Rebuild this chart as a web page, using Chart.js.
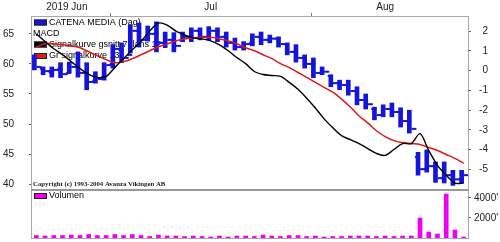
<!DOCTYPE html>
<html>
<head>
<meta charset="utf-8">
<script src="https://cdn.jsdelivr.net/npm/chart.js@4"></script>
<style>
  html, body { margin: 0; padding: 0; background: #fff; }
  #wrap { position: relative; width: 500px; height: 242px; }
  canvas { position: absolute; left: 0; }
  #price { top: 0; }
  #volume { top: 189px; }
</style>
</head>
<body>
<div id="wrap">
  <canvas id="price" width="500" height="190"></canvas>
  <canvas id="volume" width="500" height="53"></canvas>
</div>
<script>
// trading days shown in the chart
const days = [
  '2019-06-17', '2019-06-18', '2019-06-19', '2019-06-20', '2019-06-24', '2019-06-25', '2019-06-26', '2019-06-27', '2019-06-28',
  '2019-07-01', '2019-07-02', '2019-07-03', '2019-07-04', '2019-07-05', '2019-07-08', '2019-07-09', '2019-07-10', '2019-07-11',
  '2019-07-12', '2019-07-15', '2019-07-16', '2019-07-17', '2019-07-18', '2019-07-19', '2019-07-22', '2019-07-23', '2019-07-24',
  '2019-07-25', '2019-07-26', '2019-07-29', '2019-07-30', '2019-07-31',
  '2019-08-01', '2019-08-02', '2019-08-05', '2019-08-06', '2019-08-07', '2019-08-08', '2019-08-09', '2019-08-12', '2019-08-13',
  '2019-08-14', '2019-08-15', '2019-08-16', '2019-08-19', '2019-08-20', '2019-08-21', '2019-08-22', '2019-08-23', '2019-08-26'
];

const highs = [61.5, 59.5, 59.5, 60.2, 60.3, 62, 60.2, 58.7, 60.2, 63.2, 63.5, 66.5, 66.8, 66.3, 67, 65.3, 65.2, 65.3, 66, 66,
  66.2, 66, 65.3, 64.3, 63.7, 65, 65.3, 64.8, 64.5, 63.5, 63.2, 61.5, 61, 59.5, 58.2, 57.3, 57.3, 56.2, 55, 52.8,
  53.2, 53.5, 52.7, 52.3, 45.3, 45.7, 43.7, 43.7, 42.3, 42.3];
const lows = [59, 58.2, 57.8, 57.7, 58.5, 57.8, 55.7, 56.8, 57.3, 59.3, 60.2, 61.8, 62.8, 63.8, 62, 62.7, 62, 63.7, 63.7, 64,
  64, 63.7, 62.8, 62.3, 62.3, 63, 63.2, 63.5, 62.8, 61.5, 60.3, 59.3, 57.7, 58.2, 56.2, 55.7, 54.8, 53.2, 52.5, 50.7,
  51.2, 51.2, 49.5, 48.5, 41.5, 42, 40.3, 40.2, 39.8, 40.2];
const opens = [61, 59.2, 58.6, 59.2, 58.5, 59.5, 58.5, 57.2, 57.8, 60, 62.3, 61.5, 65.5, 64.2, 65, 63.5, 64, 63.9, 64.5, 65.5,
  64.5, 65.5, 64.5, 63.5, 62.8, 63.5, 64.5, 64, 64.2, 63.3, 62, 61, 60, 58.5, 58, 56.8, 56.5, 55.5, 54, 52.5,
  51.5, 52.5, 52, 50.5, 44.5, 42.5, 43, 41, 41.5, 40.8];
const closes = [59.5, 58.8, 59, 58.3, 59.5, 58.5, 57, 57.5, 59.8, 62.5, 61, 65.5, 64, 65, 63.5, 64, 63, 64.5, 65.5, 64.5,
  65.5, 64.5, 63.5, 62.8, 63.3, 64.5, 64, 64.2, 63.3, 62, 61, 60, 58.5, 58.7, 56.8, 56.5, 55.5, 54, 53.3, 51.5,
  52.5, 52, 50.5, 49.2, 42.5, 43, 41, 41.5, 40.8, 41.5];
const macd = [1.85, 1.47, 1.1, 0.8, 0.45, 0.1, -0.2, -0.35, -0.3, 0.15, 0.6, 1.05, 1.47, 2, 2.4, 2.3, 2.0, 1.8, 1.65, 1.6,
  1.5, 1.3, 1.0, 0.65, 0.35, -0.05, -0.2, -0.25, -0.3, -0.6, -0.95, -1.4, -1.9, -2.45, -2.9, -3.3, -3.5, -3.7, -3.95, -4.2,
  -4.3, -4.0, -3.7, -3.7, -3.2, -4.05, -4.8, -5.3, -5.7, -5.7];
const signal = [1.2, 1.35, 1.35, 1.3, 1.25, 1.15, 0.95, 0.75, 0.55, 0.4, 0.45, 0.6, 0.8, 1.0, 1.2, 1.35, 1.5, 1.6, 1.65, 1.68,
  1.68, 1.6, 1.5, 1.35, 1.15, 1.0, 0.8, 0.6, 0.35, 0.15, -0.1, -0.35, -0.6, -0.85, -1.1, -1.45, -1.85, -2.3, -2.65, -3.05,
  -3.35, -3.55, -3.65, -3.7, -3.75, -3.9, -4.05, -4.25, -4.45, -4.7];
const volume = [250, 200, 250, 250, 300, 250, 350, 250, 250, 350, 250, 350, 250, 150, 300, 200, 200, 150, 200, 150,
  100, 200, 100, 200, 200, 150, 300, 200, 150, 250, 250, 150, 200, 100, 150, 150, 200, 200, 200, 150,
  200, 150, 200, 200, 2000, 600, 400, 4400, 800, 100];

const priceTicks = [40, 45, 50, 55, 60, 65];
const macdTicks = [-5, -4, -3, -2, -1, 0, 1, 2];
const volumeTicks = [2000, 4000];
const monthLabels = ['2019 Jun', 'Jul', 'Aug'];
const monthCenters = [3.5, 20, 40];
const monthStarts = [8.5, 31.5];
const seriesNames = ['CATENA MEDIA (Dag)', 'MACD', 'Signalkurve gsnitt 7, lans 12', 'Gr signalkurve 13', 'Volumen'];
const copyright = 'Copyright (c) 1993-2004 Avanza Vikingen AB';

const blue = '#1414dc';
const red = '#e01818';
const magenta = '#f000f0';
const axisFont = { family: '"Liberation Sans", Arial, sans-serif', size: 10 };
const keyFont = '9px "Liberation Sans", Arial, sans-serif';

// fixed axis sizes, no extra label padding
function fixWidth(w) {
  return s => { s.width = w; s.paddingTop = 0; s.paddingBottom = 0; };
}

const frame = {
  id: 'frame',
  beforeDatasetsDraw(chart) {
    const { ctx, chartArea: a } = chart;
    ctx.save();
    ctx.strokeStyle = '#a8a8a8';
    ctx.lineWidth = 1;
    ctx.strokeRect(a.left - 0.5, a.top - 0.5, a.right - a.left + 1, a.bottom - a.top + 1);
    ctx.restore();
  }
};

function keyRow(ctx, x, y, color, text) {
  if (color) {
    ctx.fillStyle = color;
    ctx.fillRect(x, y - 3, 13, 6);
    ctx.strokeStyle = '#222';
    ctx.lineWidth = 1;
    ctx.strokeRect(x + 0.5, y - 2.5, 12, 5);
  }
  ctx.fillStyle = '#000';
  ctx.fillText(text, color ? x + 15 : x, y);
}

const priceKey = {
  id: 'priceKey',
  beforeDatasetsDraw(chart) {
    const ctx = chart.ctx;
    ctx.save();
    ctx.font = keyFont;
    ctx.textBaseline = 'middle';
    keyRow(ctx, 34, 22.5, blue, seriesNames[0]);
    keyRow(ctx, 33, 33.5, null, seriesNames[1]);
    keyRow(ctx, 34, 44.5, '#000', seriesNames[2]);
    keyRow(ctx, 34, 56, red, seriesNames[3]);
    ctx.font = 'bold 6.8px "Liberation Serif", "Times New Roman", serif';
    ctx.fillStyle = '#222';
    ctx.fillText(copyright, 33, 184);
    ctx.restore();
  }
};

const volumeKey = {
  id: 'volumeKey',
  beforeDatasetsDraw(chart) {
    const ctx = chart.ctx;
    ctx.save();
    ctx.fillStyle = '#999';
    ctx.fillRect(31, 0, 438, 2);
    ctx.font = keyFont;
    ctx.textBaseline = 'middle';
    keyRow(ctx, 34, 7, magenta, seriesNames[4]);
    ctx.restore();
  }
};

new Chart(document.getElementById('price'), {
  data: {
    labels: days,
    datasets: [
      {
        type: 'line', label: seriesNames[1], data: macd, xAxisID: 'x', yAxisID: 'yM',
        borderColor: '#000', borderWidth: 1.4, pointRadius: 0, tension: 0.3, order: 0
      },
      {
        type: 'line', label: seriesNames[3], data: signal, xAxisID: 'x', yAxisID: 'yM',
        borderColor: red, borderWidth: 1.5, pointRadius: 0, tension: 0.4, order: 1
      },
      {
        type: 'bar', label: seriesNames[0], data: lows.map((l, i) => [l, highs[i]]), xAxisID: 'x', yAxisID: 'y',
        backgroundColor: blue, barThickness: 4, order: 3
      },
      {
        type: 'line', data: opens.map((v, i) => ({ x: i - 0.3, y: v })), xAxisID: 'xTop', yAxisID: 'y',
        showLine: false, pointStyle: 'line', pointRadius: 2.5, pointBorderWidth: 2, pointBorderColor: blue, order: 2
      },
      {
        type: 'line', data: closes.map((v, i) => ({ x: i + 0.3, y: v })), xAxisID: 'xTop', yAxisID: 'y',
        showLine: false, pointStyle: 'line', pointRadius: 2.5, pointBorderWidth: 2, pointBorderColor: blue, order: 2
      }
    ]
  },
  options: {
    responsive: false,
    animation: false,
    layout: { autoPadding: false, padding: { left: 0, right: 12, top: 0, bottom: 1 } },
    plugins: { legend: { display: false }, tooltip: { enabled: false } },
    scales: {
      x: { type: 'category', display: false, offset: true },
      xTop: {
        type: 'linear', position: 'top', min: -0.5, max: 49.5,
        afterBuildTicks: s => { s.ticks = monthCenters.concat(monthStarts).map(v => ({ value: v })); },
        afterFit: s => { s.height = 17; s.paddingLeft = 0; s.paddingRight = 0; },
        border: { display: false },
        grid: {
          drawOnChartArea: false, tickLength: 4,
          color: c => (c.tick && monthStarts.includes(c.tick.value)) ? '#777' : 'rgba(0,0,0,0)'
        },
        ticks: {
          padding: 0, color: '#222', font: axisFont, maxRotation: 0, autoSkip: false,
          callback: v => { const k = monthCenters.indexOf(v); return k < 0 ? '' : monthLabels[k]; }
        }
      },
      y: {
        position: 'left', min: 39.2, max: 67.8,
        afterBuildTicks: s => { s.ticks = priceTicks.map(v => ({ value: v })); },
        afterFit: fixWidth(32),
        border: { display: false },
        grid: { drawOnChartArea: false, tickLength: 3, color: '#666' },
        ticks: { padding: 15, color: '#222', font: axisFont }
      },
      yM: {
        position: 'right', min: -6.0, max: 2.71,
        afterBuildTicks: s => { s.ticks = macdTicks.map(v => ({ value: v })); },
        afterFit: fixWidth(20),
        border: { display: false },
        grid: { drawOnChartArea: false, tickLength: 3, color: '#666' },
        ticks: { crossAlign: 'far', color: '#222', font: axisFont }
      }
    }
  },
  plugins: [frame, priceKey]
});

new Chart(document.getElementById('volume'), {
  type: 'bar',
  data: {
    labels: days,
    datasets: [
      { label: seriesNames[4], data: volume, backgroundColor: magenta, barThickness: 4, yAxisID: 'yV' }
    ]
  },
  options: {
    responsive: false,
    animation: false,
    layout: { autoPadding: false, padding: { left: 32, right: 0, top: 1, bottom: 4 } },
    plugins: { legend: { display: false }, tooltip: { enabled: false } },
    scales: {
      x: { type: 'category', display: false, offset: true },
      yV: {
        position: 'right', min: 0, max: 4800,
        afterBuildTicks: s => { s.ticks = volumeTicks.map(v => ({ value: v })); },
        afterFit: fixWidth(32),
        border: { display: false },
        grid: { drawOnChartArea: false, tickLength: 3, color: '#666' },
        ticks: { padding: 3, color: '#222', font: axisFont, callback: v => v + "'" }
      }
    }
  },
  plugins: [frame, volumeKey]
});
</script>
</body>
</html>
